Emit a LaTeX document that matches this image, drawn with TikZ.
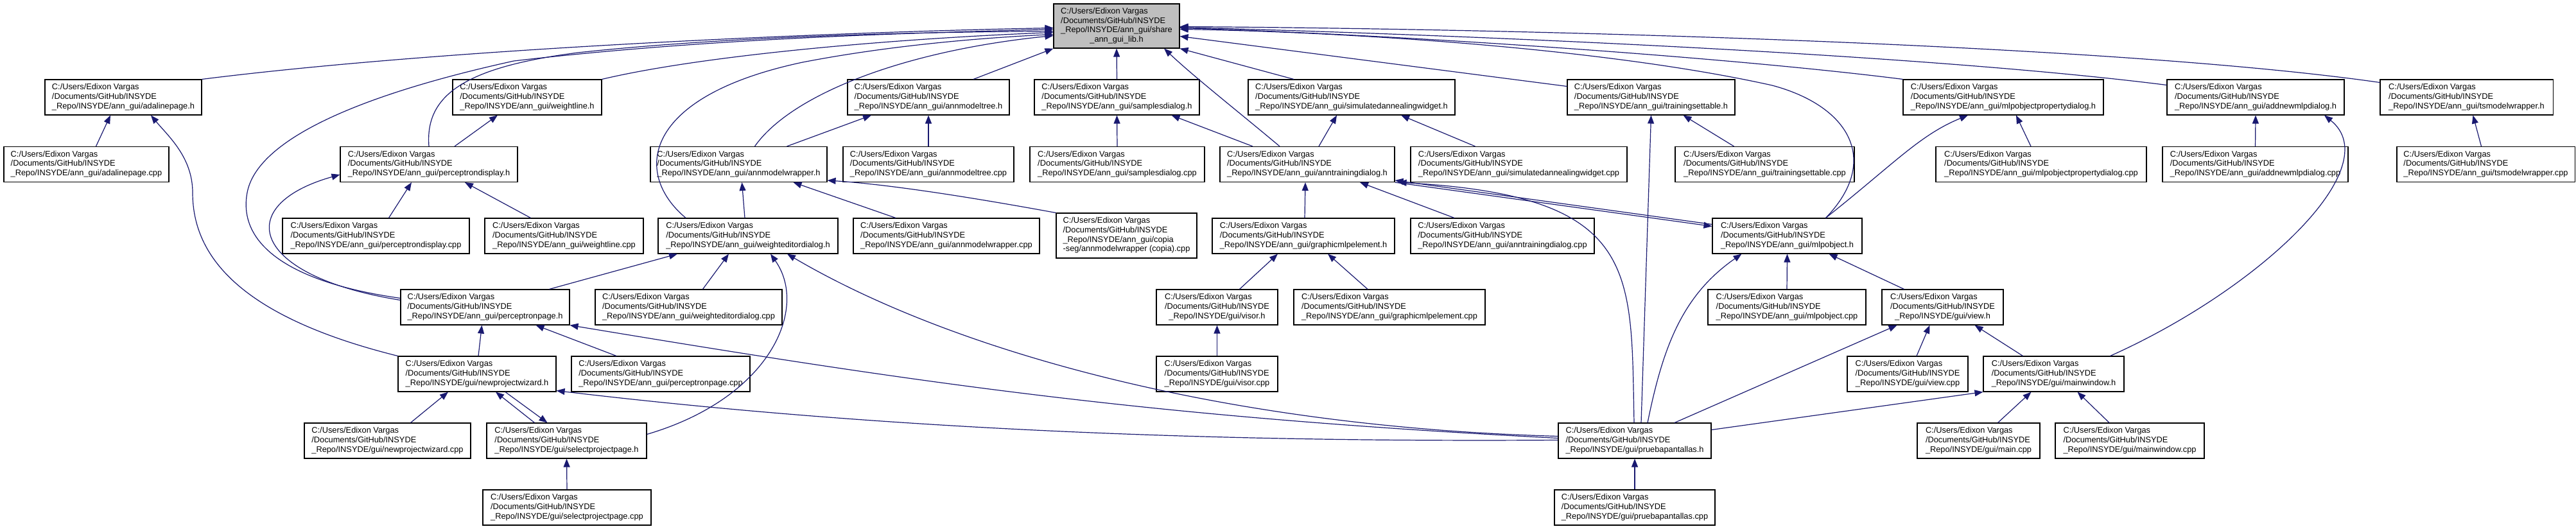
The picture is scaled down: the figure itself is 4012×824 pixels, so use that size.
\documentclass[tikz,border=0pt]{standalone}
\usepackage{fontspec}
\setmainfont{Liberation Sans}
\usepackage{xcolor}
\usepackage{tikz}
\usetikzlibrary{arrows.meta}

\definecolor{depblue}{HTML}{191970}
\definecolor{rootgray}{HTML}{BFBFBF}

\newcommand{\incpath}[1]{\begin{tabular}{@{}l@{}}C:/Users/Edixon Vargas\\/Documents/GitHub/INSYDE\\\multicolumn{1}{@{}c@{}}{\_Repo/INSYDE/#1}\end{tabular}}

\tikzset{
  file/.style={draw=black, line width=1.1pt, fill=white, inner sep=0pt,
    minimum height=55pt, font=\fontsize{12.8}{14.7}\selectfont},
  dep/.style={draw=depblue, line width=1.2pt, -{Triangle[length=13pt,width=10pt]}},
}

\begin{document}
\begin{tikzpicture}[x=1pt, y=-1pt]
  \useasboundingbox (0,0) rectangle (4012,824);
  % ---------- ROOT ----------
  \node[file, fill=rootgray, minimum width=196pt, minimum height=69pt] (root) at (1739,40.5)
    {\begin{tabular}{@{}l@{}}C:/Users/Edixon Vargas\\/Documents/GitHub/INSYDE\\\_Repo/INSYDE/ann\_gui/share\\\multicolumn{1}{@{}c@{}}{\_ann\_gui\_lib.h}\end{tabular}};
  % ---------- ROW 1 ----------
  \node[file, minimum width=244pt] (adalineH) at (192,151.5) {\incpath{ann\_gui/adalinepage.h}};
  \node[file, minimum width=232pt] (weightlineH) at (821,151.5) {\incpath{ann\_gui/weightline.h}};
  \node[file, minimum width=252pt] (modeltreeH) at (1446,151.5) {\incpath{ann\_gui/annmodeltree.h}};
  \node[file, minimum width=257pt] (samplesH) at (1739.5,151.5) {\incpath{ann\_gui/samplesdialog.h}};
  \node[file, minimum width=322pt] (annealH) at (2105,151.5) {\incpath{ann\_gui/simulatedannealingwidget.h}};
  \node[file, minimum width=261pt] (tsetH) at (2571.5,151.5) {\incpath{ann\_gui/trainingsettable.h}};
  \node[file, minimum width=312pt] (propdlgH) at (3120,151.5) {\incpath{ann\_gui/mlpobjectpropertydialog.h}};
  \node[file, minimum width=276pt] (addmlpH) at (3513,151.5) {\incpath{ann\_gui/addnewmlpdialog.h}};
  \node[file, minimum width=269pt] (tswrapH) at (3841.5,151.5) {\incpath{ann\_gui/tsmodelwrapper.h}};
  % ---------- ROW 2 ----------
  \node[file, minimum width=257pt] (adalineC) at (134.5,256) {\incpath{ann\_gui/adalinepage.cpp}};
  \node[file, minimum width=276pt] (pdisplayH) at (668,256) {\incpath{ann\_gui/perceptrondisplay.h}};
  \node[file, minimum width=275pt] (wrapperH) at (1150.5,256) {\incpath{ann\_gui/annmodelwrapper.h}};
  \node[file, minimum width=266pt] (modeltreeC) at (1446,256) {\incpath{ann\_gui/annmodeltree.cpp}};
  \node[file, minimum width=272pt] (samplesC) at (1740,256) {\incpath{ann\_gui/samplesdialog.cpp}};
  \node[file, minimum width=272pt] (trainH) at (2036,256) {\incpath{ann\_gui/anntrainingdialog.h}};
  \node[file, minimum width=337pt] (annealC) at (2365.5,256) {\incpath{ann\_gui/simulatedannealingwidget.cpp}};
  \node[file, minimum width=279pt] (tsetC) at (2748.5,256) {\incpath{ann\_gui/trainingsettable.cpp}};
  \node[file, minimum width=328pt] (propdlgC) at (3179,256) {\incpath{ann\_gui/mlpobjectpropertydialog.cpp}};
  \node[file, minimum width=289pt] (addmlpC) at (3512.5,256) {\incpath{ann\_gui/addnewmlpdialog.cpp}};
  \node[file, minimum width=277pt] (tswrapC) at (3871.5,256) {\incpath{ann\_gui/tsmodelwrapper.cpp}};
  % ---------- ROW 3 ----------
  \node[file, minimum width=291pt] (pdisplayC) at (585.5,367.5) {\incpath{ann\_gui/perceptrondisplay.cpp}};
  \node[file, minimum width=247pt] (weightlineC) at (878.5,367.5) {\incpath{ann\_gui/weightline.cpp}};
  \node[file, minimum width=280pt] (editorH) at (1165,367.5) {\incpath{ann\_gui/weighteditordialog.h}};
  \node[file, minimum width=290pt] (wrapperC) at (1474,367.5) {\incpath{ann\_gui/annmodelwrapper.cpp}};
  \node[file, minimum width=219pt, minimum height=70pt] (copiaC) at (1754.5,367)
    {\begin{tabular}{@{}l@{}}C:/Users/Edixon Vargas\\/Documents/GitHub/INSYDE\\\_Repo/INSYDE/ann\_gui/copia\\\multicolumn{1}{@{}c@{}}{-seg/annmodelwrapper (copia).cpp}\end{tabular}};
  \node[file, minimum width=284pt] (graphicH) at (2030,367.5) {\incpath{ann\_gui/graphicmlpelement.h}};
  \node[file, minimum width=286pt] (trainC) at (2340,367.5) {\incpath{ann\_gui/anntrainingdialog.cpp}};
  \node[file, minimum width=233pt] (mlpobjH) at (2783.5,367.5) {\incpath{ann\_gui/mlpobject.h}};
  % ---------- ROW 4 ----------
  \node[file, minimum width=263pt] (pageH) at (755.5,478.5) {\incpath{ann\_gui/perceptronpage.h}};
  \node[file, minimum width=291pt] (editorC) at (1072.5,478.5) {\incpath{ann\_gui/weighteditordialog.cpp}};
  \node[file, minimum width=189pt] (visorH) at (1895.5,478.5) {\incpath{gui/visor.h}};
  \node[file, minimum width=298pt] (graphicC) at (2164,478.5) {\incpath{ann\_gui/graphicmlpelement.cpp}};
  \node[file, minimum width=246pt] (mlpobjC) at (2783,478.5) {\incpath{ann\_gui/mlpobject.cpp}};
  \node[file, minimum width=189pt] (viewH) at (3025.5,478.5) {\incpath{gui/view.h}};
  % ---------- ROW 5 ----------
  \node[file, minimum width=246pt] (wizardH) at (743,582.5) {\incpath{gui/newprojectwizard.h}};
  \node[file, minimum width=278pt] (pageC) at (1029,582.5) {\incpath{ann\_gui/perceptronpage.cpp}};
  \node[file, minimum width=189pt] (visorC) at (1895.5,582.5) {\incpath{gui/visor.cpp}};
  \node[file, minimum width=188pt] (viewC) at (2971,582.5) {\incpath{gui/view.cpp}};
  \node[file, minimum width=219pt] (mainwinH) at (3198.5,582.5) {\incpath{gui/mainwindow.h}};
  % ---------- ROW 6 ----------
  \node[file, minimum width=259pt] (wizardC) at (603.5,686.5) {\incpath{gui/newprojectwizard.cpp}};
  \node[file, minimum width=249pt] (selpageH) at (882.5,686.5) {\incpath{gui/selectprojectpage.h}};
  \node[file, minimum width=238pt] (pruebaH) at (2546,686.5) {\incpath{gui/pruebapantallas.h}};
  \node[file, minimum width=191pt] (mainC) at (3081.5,686.5) {\incpath{gui/main.cpp}};
  \node[file, minimum width=232pt] (mainwinC) at (3317,686.5) {\incpath{gui/mainwindow.cpp}};
  % ---------- ROW 7 ----------
  \node[file, minimum width=262pt] (selpageC) at (883,790.5) {\incpath{gui/selectprojectpage.cpp}};
  \node[file, minimum width=250pt] (pruebaC) at (2546,790.5) {\incpath{gui/pruebapantallas.cpp}};

  % ---------- INTO ROOT ----------
  \draw[dep] (adalineH.north east) .. controls (700,75) and (1300,50) .. ([yshift=-3pt]root.west);
  \draw[dep] (pdisplayH.north) .. controls (662,150) and (720,105) .. (900,82)
    .. controls (1150,55) and (1450,50) .. ([yshift=-8pt]root.west);
  \draw[dep] ([yshift=14pt]pageH.west) .. controls (450,440) and (370,380) .. (385,300)
    .. controls (400,220) and (550,150) .. (800,95) .. controls (1100,60) and (1400,52) .. ([yshift=-5pt]root.west);
  \draw[dep] (weightlineH.north east) .. controls (1100,85) and (1400,60) .. ([yshift=-10pt]root.west);
  \draw[dep] ([xshift=-97pt]editorH.north) .. controls (985,270) and (1000,150) .. (1250,97)
    .. controls (1400,68) and (1550,58) .. ([yshift=-13pt]root.west);
  \draw[dep] ([xshift=25pt]wrapperH.north) .. controls (1230,150) and (1400,80) .. ([yshift=-15pt]root.west);
  \draw[dep] ([xshift=70pt]modeltreeH.north) -- (root.south west);
  \draw[dep] (samplesH.north) -- (root.south);
  \draw[dep] ([xshift=-43pt]trainH.north) .. controls (1930,175) and (1860,120) .. ([xshift=74pt]root.south);
  \draw[dep] ([xshift=-90pt]annealH.north) -- (root.south east);
  \draw[dep] ([yshift=17pt]tsetH.west) -- ([yshift=-16pt]root.east);
  \draw[dep] ([xshift=60pt]mlpobjH.north) .. controls (2930,250) and (2880,165) .. (2760,133)
    .. controls (2500,75) and (2100,50) .. ([yshift=-5pt]root.east);
  \draw[dep] (propdlgH.north west) .. controls (2700,90) and (2200,55) .. ([yshift=-3pt]root.east);
  \draw[dep] ([yshift=19pt]addmlpH.west) .. controls (3000,85) and (2300,55) .. ([yshift=-2pt]root.east);
  \draw[dep] ([yshift=23pt]tswrapH.west) .. controls (3300,70) and (2400,45) .. ([yshift=-1pt]root.east);

  % ---------- LEFT PART ----------
  \draw[dep] ([xshift=15pt]adalineC.north) -- ([xshift=-20pt]adalineH.south);
  \draw[dep] (wizardH.north west) .. controls (360,490) and (300,390) .. (300,300)
    .. controls (300,245) and (262,212) .. ([xshift=43pt]adalineH.south);
  \draw[dep] ([xshift=40pt]pdisplayH.north) -- ([xshift=-46pt]weightlineH.south);
  \draw[dep] ([xshift=20pt]pdisplayC.north) -- ([xshift=-27pt]pdisplayH.south);
  \draw[dep] ([xshift=-52pt]weightlineC.north) -- ([xshift=56pt]pdisplayH.south);
  \draw[dep] ([yshift=11pt]pageH.west) .. controls (390,430) and (360,320) .. ([yshift=-16pt]pdisplayH.west);
  \draw[dep] ([xshift=75pt]wrapperH.north) -- ([xshift=-89pt]modeltreeH.south);
  \draw[dep] (modeltreeC.north) -- (modeltreeH.south);
  \draw[dep] ([xshift=-5pt]editorH.north) -- ([xshift=5pt]wrapperH.south);
  \draw[dep] ([xshift=-79pt]wrapperC.north) -- ([xshift=85pt]wrapperH.south);
  \draw[dep] (copiaC.north west) .. controls (1500,305) and (1380,287) .. ([yshift=-25pt]wrapperH.east);
  \draw[dep] ([xshift=22pt]editorC.north) -- ([xshift=-30pt]editorH.south);
  \draw[dep] ([xshift=100pt]pageH.north) -- ([xshift=-110pt]editorH.south);
  \draw[dep] ([yshift=10pt]selpageH.east) .. controls (1200,620) and (1260,480) .. ([xshift=35pt]editorH.south);
  \draw[dep] ([xshift=2pt]wizardH.north) -- ([xshift=-5pt]pageH.south);
  \draw[dep] ([xshift=-69pt]pageC.north) -- ([xshift=79pt]pageH.south);
  \draw[dep] ([xshift=36pt]wizardC.north) -- ([xshift=-45pt]wizardH.south);
  \draw[dep] ([xshift=-50pt]selpageH.north) -- ([xshift=29pt]wizardH.south);
  \draw[dep] ([xshift=44pt]wizardH.south) -- ([xshift=-30pt]selpageH.north);
  \draw[dep] (selpageC.north) -- (selpageH.south);

  % ---------- MIDDLE PART ----------
  \draw[dep] (samplesC.north) -- (samplesH.south);
  \draw[dep] ([xshift=-85pt]trainH.north) -- ([xshift=85pt]samplesH.south);
  \draw[dep] ([xshift=18pt]trainH.north) -- ([xshift=-23pt]annealH.south);
  \draw[dep] ([xshift=-68pt]annealC.north) -- ([xshift=77pt]annealH.south);
  \draw[dep] ([xshift=2pt]graphicH.north) -- ([xshift=-3pt]trainH.south);
  \draw[dep] ([xshift=-75pt]trainC.north) -- ([xshift=82pt]trainH.south);
  \draw[dep] ([yshift=18pt]mlpobjH.west) -- ([yshift=-25pt]trainH.east);
  \draw[dep] (trainH.south east) -- ([yshift=15pt]mlpobjH.west);
  \draw[dep] ([xshift=35pt]visorH.north) -- ([xshift=-40pt]graphicH.south);
  \draw[dep] ([xshift=-34pt]graphicC.north) -- ([xshift=38pt]graphicH.south);
  \draw[dep] (visorC.north) -- (visorH.south);

  % ---------- PRUEBAPANTALLAS ----------
  \draw[dep] ([yshift=7pt]pruebaH.west) .. controls (1900,665) and (1480,545) .. ([xshift=61pt]editorH.south);
  \draw[dep] ([yshift=4pt]pruebaH.west) .. controls (1800,650) and (1450,600) .. (pageH.south east);
  \draw[dep] ([yshift=1pt]pruebaH.west) .. controls (1800,690) and (1300,660) .. ([yshift=-26pt]wizardH.east);
  \draw[dep] ([xshift=-1pt]pruebaH.north) .. controls (2540,420) and (2555,305) .. ([xshift=5pt]trainH.south east);
  \draw[dep] ([xshift=10pt]pruebaH.north) -- (tsetH.south);
  \draw[dep] ([xshift=20pt]pruebaH.north) .. controls (2590,540) and (2620,460) .. ([xshift=-71pt]mlpobjH.south);
  \draw[dep] ([xshift=62pt]pruebaH.north) -- ([xshift=-71pt]viewH.south);
  \draw[dep] ([yshift=17pt]pruebaH.east) -- (mainwinH.south west);
  \draw[dep] (pruebaC.north) -- (pruebaH.south);

  % ---------- RIGHT PART ----------
  \draw[dep] ([xshift=-48pt]tsetC.north) -- ([xshift=50pt]tsetH.south);
  \draw[dep] (mlpobjC.north) -- (mlpobjH.south);
  \draw[dep] ([xshift=-60pt]viewH.north) -- ([xshift=65pt]mlpobjH.south);
  \draw[dep] ([xshift=60pt]mlpobjH.north) .. controls (2950,255) and (2990,210) .. ([xshift=-55pt]propdlgH.south);
  \draw[dep] ([xshift=-16pt]propdlgC.north) -- ([xshift=20pt]propdlgH.south);
  \draw[dep] (addmlpC.north) -- (addmlpH.south);
  \draw[dep] ([xshift=88pt]mainwinH.north) .. controls (3520,450) and (3720,260) .. ([xshift=107pt]addmlpH.south);
  \draw[dep] ([xshift=-7pt]tswrapC.north) -- ([xshift=10pt]tswrapH.south);
  \draw[dep] ([xshift=14pt]viewC.north) -- ([xshift=-20pt]viewH.south);
  \draw[dep] ([xshift=-48pt]mainwinH.north) -- ([xshift=50pt]viewH.south);
  \draw[dep] ([xshift=30pt]mainC.north) -- ([xshift=-35pt]mainwinH.south);
  \draw[dep] ([xshift=-32pt]mainwinC.north) -- ([xshift=37pt]mainwinH.south);
\end{tikzpicture}
\end{document}
